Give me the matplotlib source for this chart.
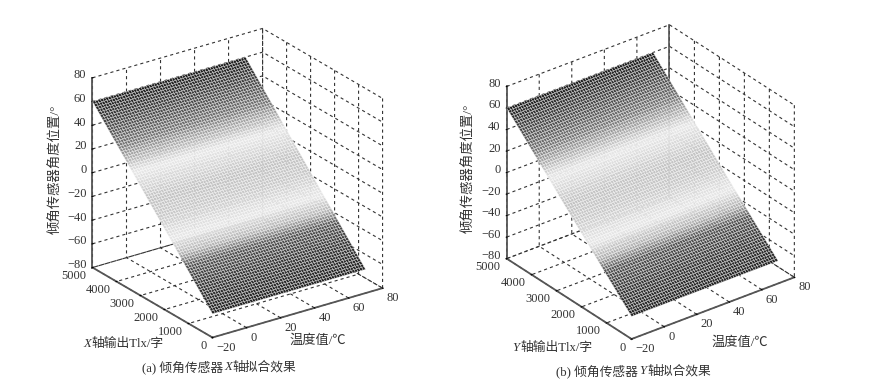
import numpy as np
import matplotlib
matplotlib.use('Agg')
import matplotlib.pyplot as plt
from matplotlib.colors import LinearSegmentedColormap, Normalize
from mpl_toolkits.mplot3d import proj3d

plt.rcParams['font.family'] = ['Liberation Serif', 'Noto Sans CJK SC']
plt.rcParams['grid.color'] = '#333333'
plt.rcParams['grid.linestyle'] = (0, (2.8, 2.8))
plt.rcParams['grid.linewidth'] = 0.8

# mesh
temps = np.arange(-20, 70.1, 1.5)
tlx = np.arange(0, 5000.1, 62.5)
# fitted angle against Tlx, both axes nearly the same
angle_x = [-60.0, -58.5, -57.0, -55.5, -54.0, -52.5, -51.0, -49.5, -48.0, -46.5,
           -45.0, -43.5, -42.0, -40.5, -39.0, -37.5, -36.0, -34.5, -33.0, -31.5,
           -30.0, -28.5, -27.0, -25.5, -24.0, -22.5, -21.0, -19.5, -18.0, -16.5,
           -15.0, -13.5, -12.0, -10.5, -9.0, -7.5, -6.0, -4.5, -3.0, -1.5,
           0.0, 1.5, 3.0, 4.5, 6.0, 7.5, 9.0, 10.5, 12.0, 13.5,
           15.0, 16.5, 18.0, 19.5, 21.0, 22.5, 24.0, 25.5, 27.0, 28.5,
           30.0, 31.5, 33.0, 34.5, 36.0, 37.5, 39.0, 40.5, 42.0, 43.5,
           45.0, 46.5, 48.0, 49.5, 51.0, 52.5, 54.0, 55.5, 57.0, 58.5, 60.0]
angle_y = [-59.0, -57.5, -56.0, -54.5, -53.1, -51.6, -50.1, -48.7, -47.2, -45.7,
           -44.3, -42.8, -41.3, -39.9, -38.4, -36.9, -35.5, -34.0, -32.5, -31.1,
           -29.6, -28.1, -26.7, -25.2, -23.7, -22.3, -20.8, -19.3, -17.9, -16.4,
           -14.9, -13.4, -12.0, -10.5, -9.0, -7.5, -6.0, -4.5, -3.0, -1.5,
           0.0, 1.5, 3.0, 4.5, 6.0, 7.5, 9.0, 10.5, 12.0, 13.5,
           15.0, 16.5, 18.0, 19.5, 21.0, 22.5, 24.0, 25.5, 27.0, 28.5,
           30.0, 31.5, 33.0, 34.5, 36.0, 37.5, 39.0, 40.5, 42.0, 43.5,
           45.0, 46.5, 48.0, 49.5, 51.0, 52.5, 54.0, 55.5, 57.0, 58.5, 60.0]

temp_ticks = [-20, 0, 20, 40, 60, 80]
tlx_ticks = [0, 1000, 2000, 3000, 4000, 5000]
angle_ticks = [-80, -60, -40, -20, 0, 20, 40, 60, 80]

# gray level against angle
gray_z = [-60, -45, -33, -27, -18, -5, 5, 20, 28, 35, 45, 60]
gray_v = [35, 55, 85, 175, 232, 200, 195, 232, 175, 120, 80, 30]
norm = Normalize(-60, 60)
cmap = LinearSegmentedColormap.from_list(
    'fit', [((z + 60) / 120, (g / 255,) * 3) for z, g in zip(gray_z, gray_v)])

text_col = '#333333'
px = 0.72  # points per pixel at dpi 100


def tick_text(ax, xyz, s, dx, dy, ha, va):
    x2, y2, _ = proj3d.proj_transform(*xyz, ax.get_proj())
    ax.annotate(s, xy=(x2, y2), xytext=(dx * px, dy * px), textcoords='offset points',
                ha=ha, va=va, fontsize=9, color=text_col, annotation_clip=False)


def panel(pos, elev, azim, aspect, angle):
    ax = fig.add_axes([pos[0] / 880, pos[1] / 388, pos[2] / 880, pos[2] / 388],
                      projection='3d', proj_type='ortho', computed_zorder=False)
    ax.patch.set_alpha(0)
    ax.view_init(elev=elev, azim=azim)
    ax.set_box_aspect(aspect)
    ax.set_xlim(-20, 80, view_margin=0)
    ax.set_ylim(0, 5000, view_margin=0)
    ax.set_zlim(-80, 80, view_margin=0)
    ax.set_xticks(temp_ticks)
    ax.set_yticks(tlx_ticks)
    ax.set_zticks(angle_ticks)
    ax.set_xticklabels([])
    ax.set_yticklabels([])
    ax.set_zticklabels([])
    for a in (ax.xaxis, ax.yaxis, ax.zaxis):
        a.set_pane_color((1, 1, 1, 0))
        a.pane.set_edgecolor((1, 1, 1, 0))
        a.line.set_color('#555555')
        a.line.set_linewidth(1.3)
        a._axinfo['tick']['inward_factor'] = 0.03
        a._axinfo['tick']['outward_factor'] = 0.03
        a._axinfo['tick']['color'] = '#333333'
    X, Y = np.meshgrid(temps, tlx)
    Z = np.tile(np.array(angle)[:, None], (1, len(temps)))
    ax.plot_surface(X, Y, Z, cmap=cmap, norm=norm, rstride=1, cstride=1,
                    edgecolor='white', linewidth=0.22, antialiased=True, zorder=3)
    for t in temp_ticks:
        tick_text(ax, (t, 0, -80), str(t).replace('-', '\u2212'), 4, -10, 'left', 'center')
    for t in tlx_ticks:
        tick_text(ax, (-20, t, -80), str(t), -6, -8.5, 'right', 'center')
    for t in angle_ticks:
        tick_text(ax, (-20, 5000, t), str(t).replace('-', '\u2212'), -6, 2.5, 'right', 'center')
    return ax


fig = plt.figure(figsize=(8.8, 3.88), dpi=100)

ax1 = panel((57.8, 25.3, 350), 24.3, -125.2, (1, 1, 1), angle_x)
ax2 = panel((475.4, 31, 341), 29.6, -127.5, (1, 1, 0.965), angle_y)
# back edge is solid in panel b
ax2.plot([80, 80], [5000, 5000], [-80, 80], color='#555555', lw=1.2, zorder=1)


def label(x, y, s, **kw):
    fig.text(x / 880, 1 - y / 388, s, color=text_col, ha='center', va='center', **kw)


def pieces(x, y, parts, fontsize):
    # left to right, the axis letter is italic
    rend = fig.canvas.get_renderer()
    for s, style in parts:
        t = fig.text(x / 880, 1 - y / 388, s, color=text_col, ha='left', va='center',
                     fontsize=fontsize, style=style)
        x = x + t.get_window_extent(rend).width + 1


label(56, 169, '倾角传感器角度位置/°', fontsize=9.6, rotation=90)
label(469, 168, '倾角传感器角度位置/°', fontsize=9.6, rotation=90)
pieces(83, 344, [('X', 'italic'), ('轴输出Tlx/字', 'normal')], 9.2)
pieces(512, 348, [('Y', 'italic'), ('轴输出Tlx/字', 'normal')], 9.2)
label(318, 341, '温度值/℃', fontsize=9.5)
label(740, 343, '温度值/℃', fontsize=9.5)
pieces(142, 367, [('(a) 倾角传感器', 'normal'), ('X', 'italic'), ('轴拟合效果', 'normal')], 9.2)
pieces(556, 371, [('(b) 倾角传感器', 'normal'), ('Y', 'italic'), ('轴拟合效果', 'normal')], 9.2)

fig.savefig('out.png', dpi=100)
